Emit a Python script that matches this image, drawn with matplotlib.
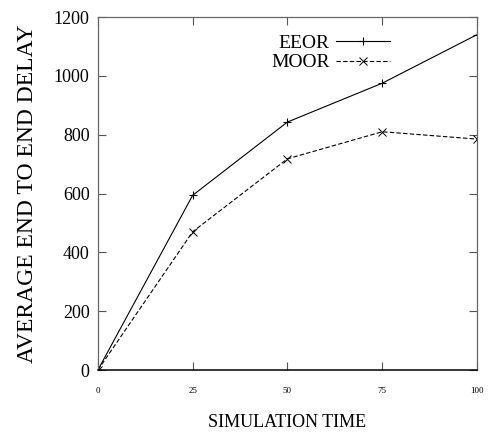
import matplotlib
matplotlib.use('Agg')
import matplotlib.pyplot as plt

# data
sim_time = [0, 25, 50, 75, 100]
eeor = [0, 594, 843, 975, 1140]
moor = [0, 470, 718, 810, 785]

x_ticks = [0, 25, 50, 75, 100]
y_ticks = [0, 200, 400, 600, 800, 1000, 1200]

plt.rcParams['font.family'] = ['Liberation Serif', 'DejaVu Serif']

fig = plt.figure(figsize=(4.92, 4.32), dpi=100)
ax = fig.add_axes([0.199, 0.1435, 0.7705, 0.8171])

ax.plot(sim_time, eeor, color='black', linewidth=0.8, marker='+',
        markersize=6, markeredgewidth=0.8, label='EEOR')
ax.plot(sim_time, moor, color='black', linewidth=0.8, linestyle=(0, (4, 2)),
        marker='x', markersize=5.5, markeredgewidth=0.7, label='MOOR')

ax.set_xlim(0, 100)
ax.set_ylim(0, 1200)
ax.set_xticks(x_ticks)
ax.set_yticks(y_ticks)
ax.tick_params(axis='both', direction='in', top=True, right=True,
               length=6, width=0.8, colors='#555555')
ax.tick_params(axis='y', labelsize=13, labelcolor='black', pad=6)
ax.tick_params(axis='x', labelsize=6.5, labelcolor='black', pad=12)

for side in ['left', 'top', 'right']:
    ax.spines[side].set_color('#666666')
    ax.spines[side].set_linewidth(0.9)
ax.spines['bottom'].set_color('black')
ax.spines['bottom'].set_linewidth(1.1)

ax.set_xlabel('SIMULATION TIME', fontsize=13, labelpad=14)
ax.set_ylabel('AVERAGE END TO END DELAY', fontsize=17, labelpad=11)

leg = ax.legend(loc='upper left', bbox_to_anchor=(0.457, 0.951), frameon=False,
                fontsize=14, markerfirst=False, handlelength=2.75,
                handletextpad=0.35, labelspacing=0.1, borderaxespad=0,
                borderpad=0)

fig.savefig('out.png', dpi=100)
